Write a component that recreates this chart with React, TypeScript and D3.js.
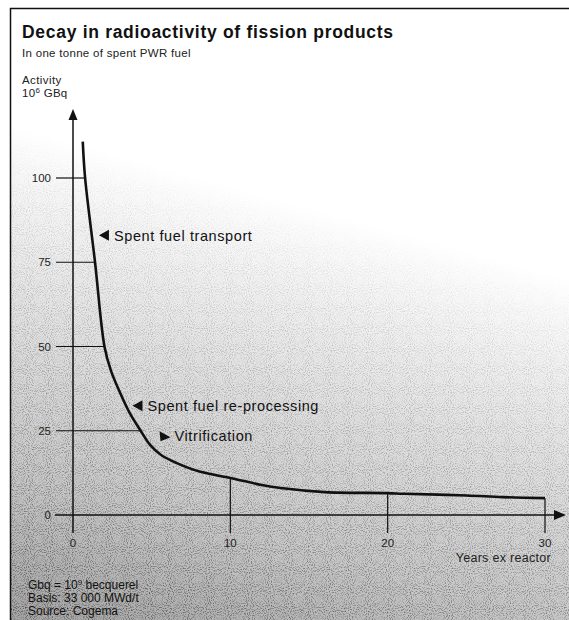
import React from "react";
import * as d3 from "d3";

const years = [0.62, 0.77, 1.4, 2.0, 2.4, 3.0, 3.6, 4.3, 4.9, 5.6, 6.6, 8.1, 10, 12, 13.2, 16, 20, 21, 25, 27.3, 30];
const activity = [110.8, 100, 75, 50, 43, 36.2, 30.3, 25, 20.8, 17.8, 15.4, 12.8, 11, 8.9, 8.0, 6.8, 6.5, 6.3, 5.8, 5.3, 5.0];
const yTicks = [0, 25, 50, 75, 100];
const xTicks = [0, 10, 20, 30];
const annotations = [
  { label: "Spent fuel transport", t: 1.65, v: 83, dir: "left" },
  { label: "Spent fuel re-processing", t: 3.78, v: 32.4, dir: "left" },
  { label: "Vitrification", t: 5.5, v: 23.7, dir: "right" },
];

const W = 569;
const H = 620;
const FONT = "'Liberation Sans', Arial, Helvetica, sans-serif";

export default function App() {
  const x = d3.scaleLinear().domain([0, 30]).range([73, 545]);
  const y = d3.scaleLinear().domain([0, 100]).range([515, 178]);
  const data = years.map((t, i) => ({ t, v: activity[i] }));
  const line = d3
    .line<{ t: number; v: number }>()
    .x((d) => x(d.t))
    .y((d) => y(d.v))
    .curve(d3.curveCatmullRom.alpha(0.5));

  const valueAt = (t: number) => {
    for (let i = 0; i < data.length - 1; i++) {
      if (t >= data[i].t && t <= data[i + 1].t) {
        const f = (t - data[i].t) / (data[i + 1].t - data[i].t);
        return data[i].v + f * (data[i + 1].v - data[i].v);
      }
    }
    return data[data.length - 1].v;
  };
  const timeAt = (v: number) => {
    for (let i = 0; i < data.length - 1; i++) {
      if (v <= data[i].v && v >= data[i + 1].v) {
        const f = (data[i].v - v) / (data[i].v - data[i + 1].v);
        return data[i].t + f * (data[i + 1].t - data[i].t);
      }
    }
    return 0;
  };

  const x0 = x(0);
  const yBase = y(0);

  return (
    <svg
      width={W}
      height={H}
      style={{ position: "absolute", left: 0, top: 0, fontFamily: FONT }}
    >
      <defs>
        <linearGradient id="bg" gradientUnits="userSpaceOnUse" x1={300} y1={205} x2={175} y2={660}>
          <stop offset="0" stopColor="#ffffff" />
          <stop offset="0.12" stopColor="#f6f6f6" />
          <stop offset="0.4" stopColor="#e0e0e0" />
          <stop offset="0.7" stopColor="#c8c8c8" />
          <stop offset="1" stopColor="#a6a6a6" />
        </linearGradient>
        <filter id="grain" x="0" y="0" width="100%" height="100%">
          <feTurbulence type="fractalNoise" baseFrequency="0.95" numOctaves="1" seed="3" result="n" />
          <feColorMatrix
            in="n"
            type="matrix"
            values="0 0 0 0 0  0 0 0 0 0  0 0 0 0 0  0 0 0 -3 1.6"
            result="dots"
          />
          <feComposite in="dots" in2="SourceGraphic" operator="in" />
        </filter>
        <linearGradient id="grainMask" gradientUnits="userSpaceOnUse" x1={300} y1={205} x2={175} y2={660}>
          <stop offset="0" stopColor="#000" stopOpacity="0" />
          <stop offset="0.15" stopColor="#000" stopOpacity="0.12" />
          <stop offset="1" stopColor="#000" stopOpacity="0.55" />
        </linearGradient>
      </defs>
      <rect x={0} y={0} width={W} height={H} fill="#ffffff" />
      <rect x={10} y={8} width={W - 10} height={H - 8} fill="url(#bg)" />
      <rect x={10} y={8} width={W - 10} height={H - 8} fill="url(#grainMask)" filter="url(#grain)" />

      {/* frame */}
      <line x1={10.5} y1={8} x2={10.5} y2={H} stroke="#111" strokeWidth={1.5} />
      <line x1={10} y1={8.5} x2={W} y2={8.5} stroke="#111" strokeWidth={1.5} />

      {/* titles */}
      <text x={22} y={38} fontSize={17.5} fontWeight="bold" letterSpacing={0.7} fill="#111">
        Decay in radioactivity of fission products
      </text>
      <text x={22} y={57} fontSize={11.5} letterSpacing={0.3} fill="#222">
        In one tonne of spent PWR fuel
      </text>
      <text x={22} y={84} fontSize={11.5} letterSpacing={0.4} fill="#222">
        Activity
      </text>
      <text x={22} y={97} fontSize={11.5} letterSpacing={0.3} fill="#222">
        10<tspan dy={-4} fontSize={8}>6</tspan>
        <tspan dy={4}> GBq</tspan>
      </text>

      {yTicks.filter((v) => v > 0).map((v) => (
        <line key={"g" + v} x1={56} x2={x(timeAt(v))} y1={y(v)} y2={y(v)} stroke="#111" strokeWidth={1.2} />
      ))}
      {xTicks.filter((t) => t > 0).map((t) => (
        <line key={"v" + t} x1={x(t)} x2={x(t)} y1={y(valueAt(t))} y2={533} stroke="#111" strokeWidth={1.2} />
      ))}

      {/* axes */}
      <line x1={x0} x2={x0} y1={116} y2={533} stroke="#111" strokeWidth={1.5} />
      <path d={`M${x0},109 L${x0 - 4.5},120 L${x0 + 4.5},120 Z`} fill="#111" />
      <line x1={55} x2={558} y1={yBase} y2={yBase} stroke="#111" strokeWidth={1.5} />
      <path d={`M566,${yBase} L554,${yBase - 5} L554,${yBase + 5} Z`} fill="#111" />

      {yTicks.map((v) => (
        <text key={"yl" + v} x={51} y={y(v) + 4} textAnchor="end" fontSize={11.5} fill="#222">
          {v}
        </text>
      ))}
      {xTicks.map((t) => (
        <text key={"xl" + t} x={x(t)} y={547} textAnchor="middle" fontSize={11.5} fill="#222">
          {t}
        </text>
      ))}
      <text x={551} y={562} textAnchor="end" fontSize={12.5} letterSpacing={0.3} fill="#222">
        Years ex reactor
      </text>

      <path d={line(data) || ""} fill="none" stroke="#111" strokeWidth={2.6} strokeLinejoin="round" />

      {annotations.map((a) => {
        const ax = x(a.t);
        const ay = y(a.v);
        const tri =
          a.dir === "left"
            ? `M${ax},${ay} L${ax + 10},${ay - 5.5} L${ax + 10},${ay + 5.5} Z`
            : `M${ax + 11},${ay + 2} L${ax},${ay - 4} L${ax + 1},${ay + 6} Z`;
        return (
          <g key={a.label}>
            <path d={tri} fill="#111" />
            <text x={ax + 15} y={ay + 5.5} fontSize={14.5} letterSpacing={0.6} fill="#111">
              {a.label}
            </text>
          </g>
        );
      })}

      <text x={28} y={589} fontSize={12} fill="#111">
        Gbq = 10<tspan dy={-4} fontSize={8}>9</tspan>
        <tspan dy={4}> becquerel</tspan>
      </text>
      <text x={28} y={602} fontSize={12} fill="#111">
        Basis: 33 000 MWd/t
      </text>
      <text x={28} y={615} fontSize={12} fill="#111">
        Source: Cogema
      </text>
    </svg>
  );
}
